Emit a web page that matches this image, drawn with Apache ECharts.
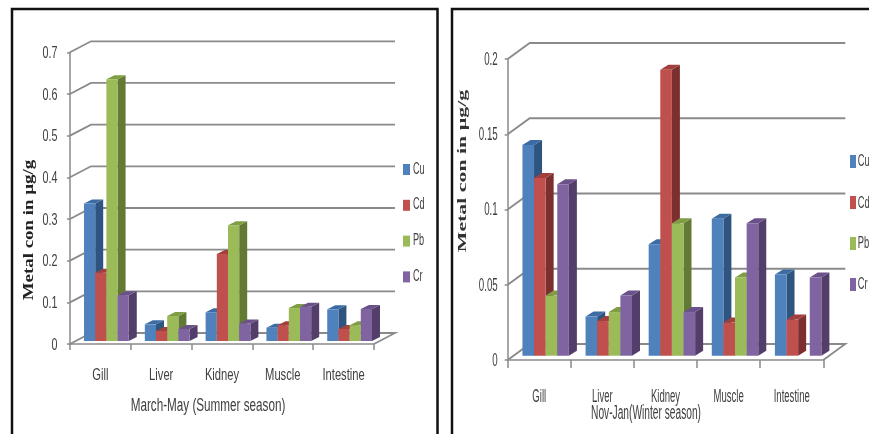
<!DOCTYPE html>
<html>
<head>
<meta charset="utf-8">
<style>html,body{margin:0;padding:0;background:#fff;overflow:hidden}#c{width:869px;height:434px}</style>
<script src="https://cdn.jsdelivr.net/npm/echarts@6/dist/echarts.min.js"></script>
</head>
<body>
<div id="c"></div>
<script>
// Metal concentration by organ, two seasons
const categories = ['Gill', 'Liver', 'Kidney', 'Muscle', 'Intestine'];
const metals = ['Cu', 'Cd', 'Pb', 'Cr'];

const summerCu = [0.33, 0.04, 0.069, 0.032, 0.076];
const summerCd = [0.164, 0.024, 0.209, 0.038, 0.029];
const summerPb = [0.628, 0.06, 0.278, 0.079, 0.038];
const summerCr = [0.11, 0.029, 0.042, 0.082, 0.077];
const summerTicks = [0, 0.1, 0.2, 0.3, 0.4, 0.5, 0.6, 0.7];

const winterCu = [0.14, 0.026, 0.074, 0.091, 0.054];
const winterCd = [0.118, 0.023, 0.19, 0.022, 0.024];
const winterPb = [0.04, 0.029, 0.088, 0.052, 0];
const winterCr = [0.114, 0.04, 0.029, 0.088, 0.052];
const winterTicks = [0, 0.05, 0.1, 0.15, 0.2];

// front, side and top shades of each metal's column
const shades = {
  Cu: ['#4f81bd', '#2f5480', '#3d6ba3'],
  Cd: ['#c0504d', '#7b2f2e', '#a33f3c'],
  Pb: ['#9bbb59', '#637a34', '#7f9d43'],
  Cr: ['#8064a2', '#533d69', '#6b5189']
};

const sans = '"Liberation Sans", sans-serif';
const textColor = '#404040';
const wallColor = '#8a8a8a';

// Panel layouts in page pixels; the *Fit values squeeze text horizontally
const panels = [
  { grid: { left: 70, top: 52.3, width: 304, height: 291.7 }, max: 0.7, step: 0.1, ticks: summerTicks,
    wall: [21, -11], lift: [6, -3], depth: [8, -4], tickLen: 6,
    catY: 32, catFont: 16, catFit: 0.7, valX: 12.5, valFont: 16.5, valFit: 0.65,
    legend: { left: 403, top: 164, itemWidth: 7, itemHeight: 11, itemGap: 24.8 },
    legendText: { x: 413, y: [169.5, 205, 241, 276.5], font: 16, fit: 0.57 },
    values: [summerCu, summerCd, summerPb, summerCr] },
  { grid: { left: 507.7, top: 59, width: 315.6, height: 301 }, max: 0.2, step: 0.05, ticks: winterTicks,
    wall: [22, -16], lift: [6.4, -4.3], depth: [8, -5], tickLen: 8,
    catY: 37, catFont: 18, catFit: 0.53, valX: 10, valFont: 18, valFit: 0.54,
    legend: { left: 850, top: 155, itemWidth: 6, itemHeight: 13, itemGap: 28 },
    legendText: { x: 857.7, y: [161, 203, 243, 284], font: 17, fit: 0.55 },
    values: [winterCu, winterCd, winterPb, winterCr] }
];

const grids = [], xAxes = [], yAxes = [], legends = [], series = [];
const graphic = [
  // panel frames
  { type: 'rect', shape: { x: 12, y: 9, width: 425.5, height: 440 }, style: { fill: null, stroke: '#111', lineWidth: 2.5 }, z: 0 },
  { type: 'rect', shape: { x: 452, y: 9, width: 440, height: 440 }, style: { fill: null, stroke: '#111', lineWidth: 2.5 }, z: 0 },
  // axis titles
  { type: 'text', x: 29, y: 230, rotation: Math.PI / 2, scaleX: 1.35, style: { text: 'Metal con in µg/g', fill: '#222', font: 'bold 14px "Liberation Serif", serif', align: 'center', verticalAlign: 'middle' }, z: 10 },
  { type: 'text', x: 463, y: 171, rotation: Math.PI / 2, scaleX: 1.68, style: { text: 'Metal con in µg/g', fill: '#333', font: 'bold 13px "Liberation Serif", serif', align: 'center', verticalAlign: 'middle' }, z: 10 },
  { type: 'text', x: 208, y: 406, scaleX: 0.65, style: { text: 'March-May (Summer season)', fill: textColor, font: '18px ' + sans, align: 'center', verticalAlign: 'middle' }, z: 10 },
  { type: 'text', x: 646, y: 413, scaleX: 0.51, style: { text: 'Nov-Jan(Winter season)', fill: textColor, font: '20px ' + sans, align: 'center', verticalAlign: 'middle' }, z: 10 }
];

panels.forEach((p, idx) => {
  grids.push(p.grid);
  xAxes.push({
    type: 'category', gridIndex: idx, data: categories, boundaryGap: true,
    axisLine: { show: true, lineStyle: { color: wallColor, width: 1.5 } },
    axisTick: { show: true, length: p.tickLen, lineStyle: { color: wallColor, width: 1.5 } },
    axisLabel: { show: false },
    splitLine: { show: false }
  });
  yAxes.push({
    type: 'value', gridIndex: idx, min: 0, max: p.max, interval: p.step,
    axisLine: { show: true, lineStyle: { color: wallColor, width: 1.5 } },
    axisTick: { show: true, length: 3, lineStyle: { color: wallColor, width: 1.5 } },
    axisLabel: { show: false },
    splitLine: { show: false }
  });
  legends.push(Object.assign({
    orient: 'vertical', data: metals, icon: 'rect', selectedMode: false, padding: 0,
    formatter: () => ''
  }, p.legend));

  metals.forEach((name, m) => {
    graphic.push({
      type: 'text', x: p.legendText.x, y: p.legendText.y[m], scaleX: p.legendText.fit, z: 10,
      style: { text: name, fill: textColor, font: p.legendText.font + 'px ' + sans, align: 'left', verticalAlign: 'middle' }
    });
  });

  // Receding grid lines on the side and back walls, floor outline and value labels
  series.push({
    type: 'custom', xAxisIndex: idx, yAxisIndex: idx, silent: true, z: 1,
    data: p.ticks.map(t => [0, t]),
    encode: { x: 0, y: 1 },
    renderItem(params, api) {
      const v = api.value(1);
      const band = api.size([1, 0])[0];
      const mid = api.coord([0, v]);
      const x0 = mid[0] - band / 2;
      const xEnd = x0 + band * categories.length;
      const y = mid[1];
      const pts = [[x0, y], [x0 + p.wall[0], y + p.wall[1]], [xEnd + p.wall[0], y + p.wall[1]]];
      if (v === 0) pts.push([xEnd, y]);
      return {
        type: 'group',
        children: [
          { type: 'polyline', shape: { points: pts }, style: { stroke: wallColor, lineWidth: 1.8, fill: null } },
          { type: 'text', x: x0 - p.valX, y: y + 1, scaleX: p.valFit,
            style: { text: String(p.ticks[params.dataIndex]), fill: textColor, font: p.valFont + 'px ' + sans, align: 'right', verticalAlign: 'middle' } }
        ]
      };
    }
  });

  // Organ names under the floor
  series.push({
    type: 'custom', xAxisIndex: idx, yAxisIndex: idx, silent: true, z: 1,
    data: categories.map((c, i) => [i, 0]),
    encode: { x: 0, y: 1 },
    renderItem(params, api) {
      const pos = api.coord([api.value(0), 0]);
      return { type: 'text', x: pos[0], y: pos[1] + p.catY, scaleX: p.catFit,
        style: { text: categories[params.dataIndex], fill: textColor, font: p.catFont + 'px ' + sans, align: 'center', verticalAlign: 'middle' } };
    }
  });

  // One custom series per metal, drawing a column with front, side and top faces
  metals.forEach((name, m) => {
    const c = shades[name];
    series.push({
      name, type: 'custom', xAxisIndex: idx, yAxisIndex: idx, z: 2 + m,
      itemStyle: { color: c[0] },
      data: p.values[m].map((v, i) => [i, v]),
      encode: { x: 0, y: 1 },
      renderItem(params, api) {
        const v = api.value(1);
        if (v === 0) return null;
        const band = api.size([1, 0])[0];
        const w = band * 0.184;
        const top = api.coord([api.value(0), v]);
        const base = api.coord([api.value(0), 0]);
        const xl = top[0] + p.lift[0] + (m - 2) * w;
        const xr = xl + w;
        const yt = top[1] + p.lift[1];
        const yb = base[1] + p.lift[1];
        const [dx, dy] = p.depth;
        return {
          type: 'group',
          children: [
            { type: 'polygon', shape: { points: [[xr, yb], [xr, yt], [xr + dx, yt + dy], [xr + dx, yb + dy]] }, style: { fill: c[1] } },
            { type: 'polygon', shape: { points: [[xl, yt], [xl + dx, yt + dy], [xr + dx, yt + dy], [xr, yt]] }, style: { fill: c[2] } },
            { type: 'rect', shape: { x: xl, y: yt, width: w, height: yb - yt }, style: { fill: c[0] } }
          ]
        };
      }
    });
  });
});

const chart = echarts.init(document.getElementById('c'), null, { renderer: 'canvas' });
chart.setOption({
  animation: false, backgroundColor: '#fff', tooltip: { show: false },
  grid: grids, xAxis: xAxes, yAxis: yAxes, legend: legends, series, graphic
});
</script>
</body>
</html>
